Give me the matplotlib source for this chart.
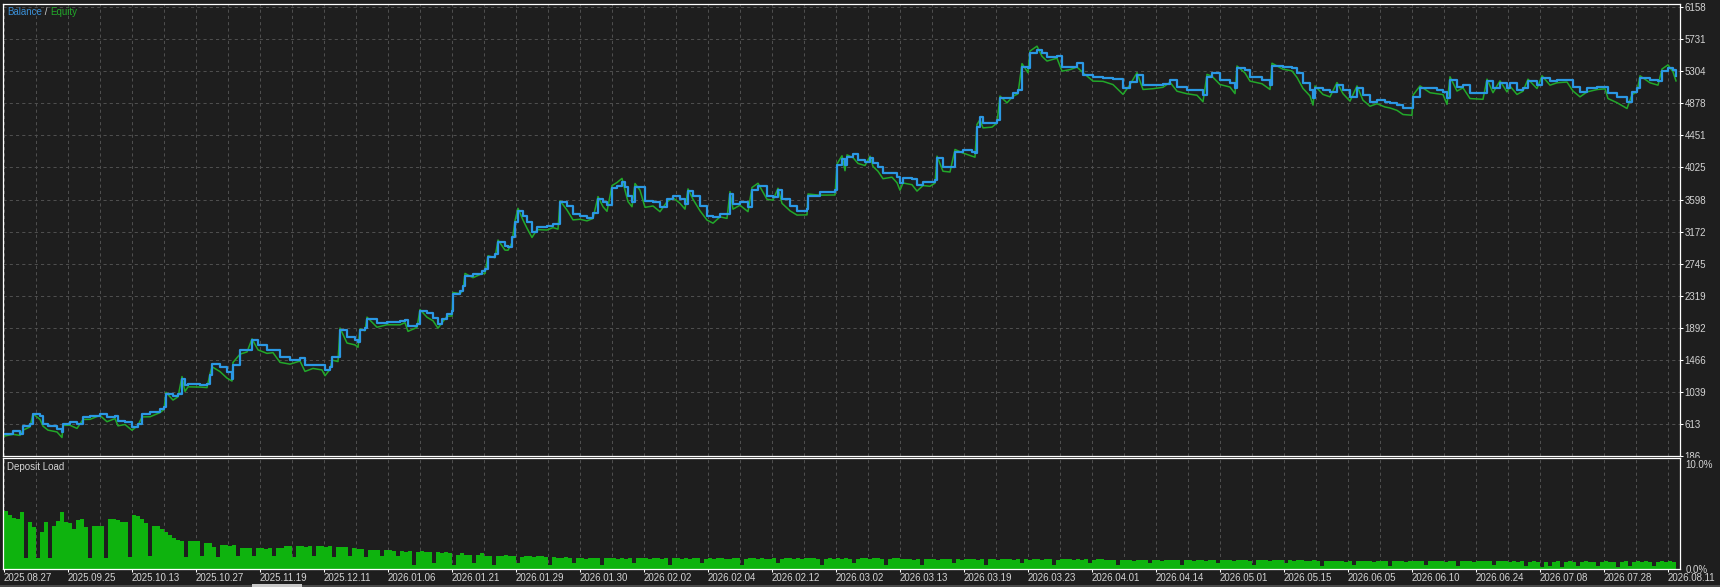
import numpy as np
import matplotlib.pyplot as plt
from matplotlib.patches import Rectangle
from matplotlib.transforms import Bbox, TransformedBbox, ScaledTranslation

plt.rcParams['font.family'] = ['Liberation Sans', 'DejaVu Sans']

# Balance curve: deal number -> balance
deal = [4, 13, 20, 23, 30, 33, 40, 43, 48, 57, 62, 63, 70, 77, 83, 90, 100, 107, 115, 118,
        125, 132, 138, 142, 150, 160, 164, 166, 173, 178, 182, 185, 188, 200, 207, 210, 212, 220, 227, 232,
        233, 240, 247, 252, 258, 267, 273, 280, 290, 300, 305, 313, 322, 325, 330, 332, 338, 340, 347, 355,
        358, 360, 365, 367, 377, 387, 400, 405, 408, 417, 420, 427, 433, 438,
        442, 447, 452, 453, 460, 463, 465, 473, 482, 485, 488, 495, 498, 505, 508, 512, 515, 518, 523, 527,
        532, 537, 547, 553, 558, 560, 567, 573, 580, 587, 593, 598, 603, 607, 612, 617, 622, 625, 628, 632,
        635, 640, 645, 653, 660, 667, 673, 680, 685, 688, 693, 700, 707, 713, 720, 727, 730, 733, 740, 748,
        752, 758, 767, 773, 778, 782, 790, 797, 807, 808, 820, 835, 837, 842, 845, 847, 853, 858,
        865, 870, 873, 878, 883, 892, 897, 900, 903, 912, 917, 923, 930, 935, 937, 943, 950, 955, 963, 972,
        975, 977, 980, 983, 992, 997, 1000, 1007, 1013, 1018, 1022, 1028, 1030, 1037, 1042, 1047, 1057, 1062, 1070, 1077,
        1083, 1093, 1103, 1113, 1123, 1130, 1137, 1143, 1153, 1163, 1170, 1177, 1187, 1197, 1203, 1207, 1212, 1220, 1230, 1235,
        1237, 1245, 1250, 1262, 1270,
        1272, 1283, 1292, 1297, 1303, 1310, 1313, 1315, 1323, 1330, 1337, 1343, 1350, 1357, 1363, 1370, 1377, 1385, 1390, 1397,
        1403, 1412, 1413, 1420, 1430, 1437, 1443, 1447, 1450, 1457, 1463, 1470, 1483, 1487, 1493, 1500, 1507, 1510, 1517, 1523,
        1528, 1537, 1542, 1550, 1557, 1567, 1573, 1580, 1587, 1597, 1605, 1608, 1617, 1627, 1632, 1637, 1640, 1650, 1658, 1662,
        1668, 1673, 1676]

balance = [480, 524, 480, 590, 613, 746, 724, 613, 590, 546, 502, 613, 635, 613, 702, 724, 746, 702, 724, 657,
           635, 578, 613, 746, 768, 813, 835, 1013, 990, 1013, 1213, 1124, 1146, 1133, 1146, 1257, 1413, 1369, 1302, 1213,
           1391, 1591, 1600, 1724, 1658, 1591, 1591, 1502, 1458, 1489, 1391, 1391, 1391, 1324, 1369, 1502, 1502, 1858, 1769, 1724,
           1702, 1858, 1892, 2003, 1959, 1972, 1981, 1990, 1914, 1937, 2114, 2092, 2025, 1937,
           2008, 2075, 2119, 2341, 2386, 2452, 2585, 2608, 2652, 2674, 2830, 2874, 3029, 2985, 2963, 3096, 3296, 3451, 3385, 3296,
           3163, 3238, 3252, 3274, 3274, 3562, 3518, 3407, 3385, 3354, 3416, 3607, 3562, 3531, 3753, 3784, 3829, 3762, 3651, 3562,
           3771, 3762, 3584, 3562, 3496, 3607, 3651, 3607, 3540, 3709, 3651, 3518, 3385, 3363, 3407, 3407, 3673, 3540, 3562, 3496,
           3718, 3784, 3651, 3629, 3718, 3607, 3518, 3451, 3474, 3651, 3696, 3718, 4051, 4140, 4051, 4162, 4206, 4118,
           4100, 4145, 4078, 4034, 3945, 3945, 3901, 3812, 3878, 3865, 3790, 3834, 3834, 3856, 4145, 4034, 4034, 4234, 4256, 4234,
           4211, 4567, 4700, 4611, 4611, 4656, 4944, 4944, 5011, 5055, 5366, 5344, 5543, 5588, 5543, 5490, 5508, 5366, 5366, 5410,
           5255, 5233, 5210, 5197, 5077, 5166, 5255, 5122, 5122, 5131, 5188, 5099, 5055, 5055, 4988, 5233, 5277, 5188, 5144, 5077,
           5344, 5322, 5233, 5188, 5122,
           5371, 5362, 5349, 5282, 5146, 5056, 4944, 5079, 5056, 5034, 5124, 5056, 4966, 5079, 4989, 4899, 4922, 4899, 4876, 4854,
           4809, 4809, 4966, 5079, 5079, 5056, 5034, 4944, 5191, 5101, 5124, 5011, 5011, 5169, 5079, 5146, 5079, 5146, 5056, 5079,
           5169, 5124, 5214, 5169, 5191, 5191, 5101, 5034, 5079, 5101, 5101, 5011, 4966, 4899, 5034, 5079, 5214, 5191, 5169, 5304,
           5349, 5326, 5236]

# floating profit at each deal (equity = balance + floating)
floating = [-30, -50, -20, -60, -40, 0, -50, -30, -60, -40, -70, -20, -40, -60, -30, -50, -20, -60, -40, -70,
            -30, -50, -20, -40, -60, -50, -30, 20, -60, -40, 30, -80, -40, -30, -50, 20, -40, -60, -80, -30,
            40, -50, -30, 20, -60, -40, -30, -70, -50, -40, -80, -40, -60, -70, -30, -40, -60, 30, -80, -60,
            -70, 20, -40, 30, -60, -40, -50, -30, -70, -40, 20, -60, -40, -50,
            -50, -30, -70, 20, -40, -60, 30, -50, -40, -60, 20, -50, 30, -60, -40, -70, 20, 30, -60, -80,
            -70, -40, -60, -50, -70, 20, -60, -80, -50, -40, -70, 30, -60, -90, 30, 40, 50, -40, -80, -60,
            40, -40, -90, -50, -60, -40, -30, -60, -70, 30, -50, -70, -60, -80, -40, -60, 30, -70, -40, -60,
            40, 30, -50, -40, 30, -60, -70, -60, -80, 20, -40, -60, 20, 40, -70, 30, -50, -40,
            -50, 30, -40, -60, -70, -50, -80, -90, -60, -70, -80, -50, -60, -40, 30, -60, -70, 30, -40, -60,
            -50, 30, -40, -60, -50, -40, 30, -60, -40, -50, 40, -60, 30, 50, -40, -50, -30, -60, -40, -50,
            30, -60, -40, -70, -80, -40, 30, -60, -50, -40, -30, -60, -50, -70, -90, 30, -40, -60, -50, -70,
            30, -40, -60, -50, -60,
            40, -30, -40, -60, -70, -80, -90, 30, -60, -70, 30, -50, -60, 30, -70, -60, -50, -70, -60, -70,
            -80, -90, 20, 30, -60, -50, -40, -80, 40, -60, -40, -70, -80, 30, -60, 30, -50, -40, -60, -40,
            30, -50, 30, -50, -40, -30, -60, -70, -50, -40, -30, -70, -80, -90, -40, -50, 30, -40, -50, 30,
            40, -30, -60]

# deposit load, %, one value per 4 deals
load_pct = [5.2, 4.9, 4.6, 4.5, 5.1, 1.0, 4.2, 3.8, 1.0, 3.3, 4.2, 1.0, 3.9, 4.3, 5.1, 4.2, 4.1, 3.6, 4.4, 4.5,
            3.8, 1.0, 3.9, 3.9, 3.9, 1.0, 4.5, 4.5, 4.4, 4.2, 4.2, 1.1, 4.9, 4.8, 4.5, 4.1, 1.2, 3.9, 3.9, 3.6,
            3.3, 3.1, 2.8, 2.6, 2.5, 1.1, 2.5, 2.5, 2.5, 1.2, 2.3, 2.3, 2.0, 1.1, 2.2, 2.2, 2.1, 2.2, 1.2, 1.9,
            1.9, 1.9, 1.2, 1.9, 1.9, 1.8, 1.9, 1.2, 1.9, 1.9, 2.1, 2.1, 1.1, 2.1, 2.1, 2.0, 2.1, 1.2, 2.1, 2.1,
            2.0, 2.1, 1.1, 2.0, 2.0, 2.0, 1.2, 1.9, 1.8, 1.8, 1.1, 1.7, 1.7, 1.7, 1.2, 1.7, 1.7, 1.6, 1.2,
            1.6, 1.5, 1.6, 0.4, 1.5, 1.6, 1.5, 1.5, 0.5, 1.5, 1.4, 1.5, 1.4, 0.4,
            1.3, 1.4, 1.3, 1.3, 0.5, 1.3, 1.4,
            1.2, 1.2, 0.4, 1.2, 1.2, 1.3, 1.2, 1.2, 0.5, 1.1, 1.2, 1.2, 1.1, 1.2, 1.2, 1.1, 0.4, 1.1,
            1.0, 1.0, 1.1, 1.0, 0.5, 1.0, 1.0, 0.9, 1.0, 1.0, 1.0, 0.4, 1.0, 1.0, 1.0, 0.9, 1.0, 0.9, 1.0, 0.5,
            1.0, 1.0, 1.0, 0.9, 1.0, 1.0, 0.9, 1.0, 0.4, 1.0, 1.0, 0.9, 1.0, 0.9, 1.0, 1.0, 0.5,
            0.9, 1.0, 0.9, 1.0, 1.0, 0.9, 0.9, 1.0, 1.0, 0.4, 0.9, 1.0, 1.0, 0.9, 1.0, 0.9, 0.9, 1.0, 0.5, 0.9,
            1.0, 1.0, 0.9, 1.0, 0.9, 1.0, 1.0, 1.0, 0.9, 0.4, 0.9, 1.0, 0.9, 1.0, 0.9, 1.0, 0.9, 0.5, 0.9, 1.0,
            1.0, 0.9, 1.0, 1.0, 0.9, 0.4, 0.9, 1.0, 1.0, 0.9,
            0.9, 0.9, 0.8, 0.9, 0.4, 0.9, 0.9, 0.9, 0.8, 0.9, 0.9, 0.9, 0.5, 0.9, 0.8, 0.9, 0.9, 0.9, 0.8, 0.9,
            0.4, 0.9, 0.9, 0.8, 0.9, 0.9, 0.9, 0.8, 0.9, 0.5, 0.9, 0.8, 0.9, 0.9, 0.8, 0.9, 0.9, 0.4, 0.8, 0.9,
            0.9, 0.9, 0.8, 0.9, 0.8, 0.9, 0.5, 0.8, 0.9, 0.9,
            0.8, 0.8, 0.8, 0.4, 0.8, 0.8, 0.8, 0.7, 0.8, 0.8, 0.8, 0.5, 0.8, 0.8, 0.7, 0.8, 0.8, 0.8, 0.8, 0.4,
            0.8, 0.8, 0.7, 0.8, 0.8, 0.7, 0.8, 0.8, 0.5, 0.8, 0.8, 0.8, 0.7, 0.8, 0.8, 0.8, 0.7, 0.4, 0.8, 0.8,
            0.8, 0.7, 0.8, 0.8, 0.8, 0.5, 0.8, 0.7, 0.8, 0.8,
            0.7, 0.7, 0.8, 0.7, 0.3, 0.7, 0.7, 0.7, 0.7, 0.7, 0.6, 0.7, 0.4, 0.7, 0.7, 0.7, 0.7, 0.6, 0.7, 0.7,
            0.7, 0.3, 0.7, 0.7, 0.7, 0.6, 0.7, 0.7, 0.7, 0.7, 0.4, 0.7, 0.7, 0.7, 0.7, 0.6, 0.7, 0.7, 0.3, 0.7,
            0.7, 0.7, 0.6, 0.7, 0.7, 0.7, 0.7, 0.4, 0.7, 0.7,
            0.7, 0.6, 0.7, 0.6, 0.7, 0.3, 0.6, 0.7, 0.6, 0.2, 0.6, 0.3, 0.6, 0.7, 0.2, 0.6, 0.7, 0.6, 0.3, 0.6,
            0.7, 0.6, 0.6, 0.3, 0.6, 0.7, 0.6, 0.6, 0.2, 0.6, 0.7, 0.3, 0.6, 0.7, 0.6, 0.7, 0.6, 0.3, 0.6, 0.7,
            0.6, 0.7, 0.6]

date_labels = ['2025.08.27', '2025.09.25', '2025.10.13', '2025.10.27', '2025.11.19', '2025.12.11',
               '2026.01.06', '2026.01.21', '2026.01.29', '2026.01.30', '2026.02.02', '2026.02.04',
               '2026.02.12', '2026.03.02', '2026.03.13', '2026.03.19', '2026.03.23', '2026.04.01',
               '2026.04.14', '2026.05.01', '2026.05.15', '2026.06.05', '2026.06.10', '2026.06.24',
               '2026.07.08', '2026.07.28', '2026.08.11']

y_ticks = [186, 613, 1039, 1466, 1892, 2319, 2745, 3172, 3598, 4025, 4451, 4878, 5304, 5731, 6158]

# colours
BG = '#1e1e1e'
GRID = '#4e4e4e'
TXT = '#d4d4d4'
BAL = '#2b98e4'
EQ = '#22a82a'
LOAD = '#0eb30e'
FS = 7.0

equity = np.array(balance) + np.array(floating)

W, H = 1720, 587
fig = plt.figure(figsize=(W / 100, H / 100), dpi=100, facecolor=BG)
ax = fig.add_axes([3 / W, 1 - 456 / H, 1677 / W, 452 / H], facecolor=BG)
axl = fig.add_axes([3 / W, 1 - 569 / H, 1677 / W, 111 / H], facecolor=BG)

# balance / equity
ax.plot(deal, equity, color=EQ, lw=1.1)
ax.plot(deal, balance, color=BAL, lw=1.6, drawstyle='steps-post')
ax.set_xlim(3, 1680)
ax.set_ylim(186, 6199)

grid_x = np.arange(4, 1680, 32)
ax.set_xticks(grid_x)
ax.set_xticklabels([])
ax.tick_params(axis='x', length=0)
ax.set_yticks(y_ticks)
ax.set_yticklabels([str(v) for v in y_ticks])
ax.yaxis.tick_right()
ax.tick_params(axis='y', direction='out', length=2.2, width=0.75, color='white',
               labelcolor=TXT, labelsize=FS, pad=1)
ax.grid(True, color=GRID, linestyle=(0, (3, 3)), linewidth=0.75)

# the bottom "186" is cut off by the deposit-load pane, as in the terminal
clip = TransformedBbox(Bbox([[0, 1 - 458 / H], [1, 1]]), fig.transFigure)
lbl = ax.get_yticklabels()[0]
lbl.set_clip_box(clip)
lbl.set_clip_on(True)

# deposit load
load_x = 4 + 4 * np.arange(len(load_pct))
axl.bar(load_x, load_pct, width=4, align='edge', color=LOAD, linewidth=0)
axl.set_xlim(3, 1680)
axl.set_ylim(0, 10)
axl.set_axisbelow(True)

date_x = 4 + 64 * np.arange(len(date_labels))
axl.set_xticks(date_x)
axl.set_xticklabels(date_labels, ha='left')
axl.set_xticks(date_x[:-1] + 32, minor=True)
axl.tick_params(axis='x', which='major', direction='out', length=2.2, width=0.75,
                color='white', labelcolor=TXT, labelsize=FS, pad=1)
axl.tick_params(axis='x', which='minor', length=0)
axl.grid(True, axis='x', which='both', color=GRID, linestyle=(0, (3, 3)), linewidth=0.75)
axl.set_yticks([0, 10])
axl.set_yticklabels(['0.0%', '10.0%'])
axl.yaxis.tick_right()
axl.tick_params(axis='y', length=0, labelcolor=TXT, labelsize=FS, pad=4)
top_lbl = axl.get_yticklabels()[1]
top_lbl.set_va('top')
top_lbl.set_transform(top_lbl.get_transform() + ScaledTranslation(0, -2 / 100, fig.dpi_scale_trans))

for a in (ax, axl):
    for s in a.spines.values():
        s.set_color('white')
        s.set_linewidth(0.9)

# captions
t1 = fig.text(7 / W, 1 - 7 / H, 'Balance', color='#3a8fd6', fontsize=FS, va='top')
t2 = ax.annotate(' / ', xy=(1, 0), xycoords=t1, va='bottom', color=TXT, fontsize=FS,
                 annotation_clip=False)
ax.annotate('Equity', xy=(1, 0), xycoords=t2, va='bottom', color=EQ, fontsize=FS,
            annotation_clip=False)
fig.text(7 / W, 1 - 462 / H, 'Deposit Load', color=TXT, fontsize=FS, va='top')

# scrollbar strip at the very bottom
fig.add_artist(Rectangle((0, 0), 1, 2 / H, transform=fig.transFigure, color='#4a4a4a', lw=0))
fig.add_artist(Rectangle((252 / W, 0), 50 / W, 3 / H, transform=fig.transFigure, color='#c8c8c8', lw=0))

fig.savefig('out.png', dpi=100, facecolor=BG)
